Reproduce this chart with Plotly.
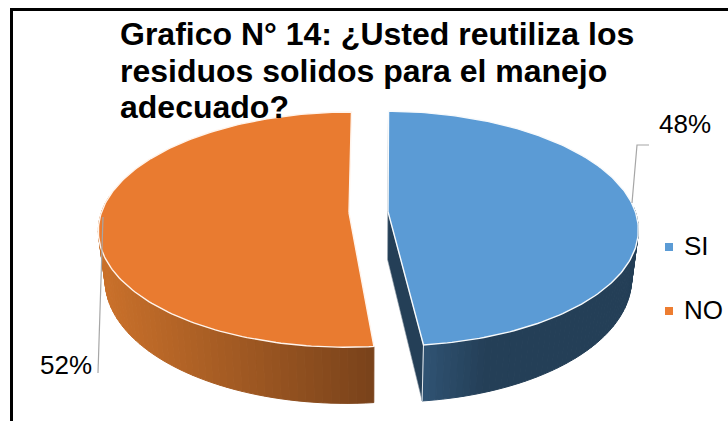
import math
import plotly.graph_objects as go

categories = ["SI", "NO"]
values = [48, 52]
colors = ["#5B9BD5", "#ED7D31"]
top_colors = ["#5B9BD5", "#E97B30"]
title_lines = ["Grafico N° 14: ¿Usted reutiliza los", "residuos solidos para el manejo", "adecuado?"]

# projection constants (pixels)
CX, CY = 368.5, 212
A, B, K = 115, 247.4, 0.145
EXPLODE = 0.079
DEPTH = 48
SHRINK = 0.975
ROT = 0.8
ORANGE_TRIM = 0.8
LEGEND_X, LEGEND_Y = 669, [247, 311]


def world(theta, r, phi):
    t, p = math.radians(theta), math.radians(phi)
    return r * math.sin(t) + EXPLODE * math.sin(p), r * math.cos(t) + EXPLODE * math.cos(p)


def top(theta, r, phi):
    X, Y = world(theta, r, phi)
    w = 1 + K * Y
    return CX + B * X / w, CY - A * Y / w


def low(theta, r, phi):
    X, Y = world(theta, r, phi)
    w = 1 + K * Y
    return CX + SHRINK * B * X / w, CY - A * Y / w + DEPTH / w


def mix(c1, c2, f):
    a = [int(c1[i:i + 2], 16) for i in (1, 3, 5)]
    b = [int(c2[i:i + 2], 16) for i in (1, 3, 5)]
    return "rgb(%d,%d,%d)" % tuple(round(x + (y - x) * f) for x, y in zip(a, b))


def poly(fig, pts, fill, line=None, width=1):
    fig.add_trace(go.Scatter(x=[p[0] for p in pts] + [pts[0][0]], y=[p[1] for p in pts] + [pts[0][1]],
                             mode="lines", fill="toself", fillcolor=fill,
                             line=dict(color=line or fill, width=width), hoverinfo="skip", showlegend=False))


def seq(a, b, n):
    return [a + (b - a) * i / n for i in range(n + 1)]


fig = go.Figure()
total = sum(values)
a0 = ROT
a1 = a0 + 360 * values[0] / total
a2 = 360
phi_blue = (a0 + a1) / 2
phi_or = (a1 + a2) / 2
o1 = a1 + ORANGE_TRIM

# orange outer wall
ang = seq(o1, 278, 60)
for i in range(60):
    t0, t1 = ang[i], ang[i + 1]
    x = top(t0, 1, phi_or)[0]
    f = min(1, max(0, (374 - x) / 270))
    col = mix("#7A431B", "#C9702A", f)
    poly(fig, [top(t0, 1, phi_or), top(t1, 1, phi_or), low(t1, 1, phi_or), low(t0, 1, phi_or)], col)

# blue walls
poly(fig, [low(a0, 1, phi_blue), low(0, 0, phi_blue), low(a1, 1, phi_blue), top(a1, 1, phi_blue),
           top(0, 0, phi_blue), top(a0, 1, phi_blue)], "#243F57", "#9AA6B0", 0.6)
ang = seq(a1, 88, 60)
for i in range(60):
    t0, t1 = ang[i], ang[i + 1]
    x = top(t0, 1, phi_blue)[0]
    f = min(1, max(0, (x - 423) / 60))
    col = mix("#2F5272", "#243F57", f)
    poly(fig, [top(t0, 1, phi_blue), top(t1, 1, phi_blue), low(t1, 1, phi_blue), low(t0, 1, phi_blue)], col)
p, q = top(a1, 1, phi_blue), low(a1, 1, phi_blue)
fig.add_trace(go.Scatter(x=[p[0], q[0]], y=[p[1], q[1]], mode="lines", line=dict(color="#E6EAEE", width=1),
                         hoverinfo="skip", showlegend=False))

# top faces
arc = [top(t, 1, phi_or) for t in seq(o1, a2, 180)]
poly(fig, [top(0, 0, phi_or)] + arc, top_colors[1], "#FFF4EC", 1.4)
arc = [top(t, 1, phi_blue) for t in seq(a0, a1, 180)]
poly(fig, [top(0, 0, phi_blue)] + arc, top_colors[0], "#F7FAFC", 1.4)

# leader lines
for lx, ly in [([632, 637, 649], [203, 145, 145]), ([103, 98], [217, 373])]:
    fig.add_trace(go.Scatter(x=lx, y=ly, mode="lines", line=dict(color="#A6A6A6", width=1.2),
                             hoverinfo="skip", showlegend=False))

# legend entries, placed to the pixel
for c, col, ly in zip(categories, colors, LEGEND_Y):
    fig.add_trace(go.Scatter(x=[LEGEND_X], y=[ly], mode="markers", name=c, showlegend=False, hoverinfo="name",
                             marker=dict(symbol="square", size=8, color=col)))

FONT = "Liberation Sans"
annotations = [dict(x=x, y=y, text=t, xref="x", yref="y", showarrow=False,
                    xanchor="center", yanchor="middle", font=dict(family=FONT, size=26, color="#000000"))
               for x, y, t in [(684.5, 124, f"{values[0]}%"), (66, 365, f"{values[1]}%")]]
for c, ly in zip(categories, LEGEND_Y):
    annotations.append(dict(x=681.5, y=ly - 1, text=c, xref="x", yref="y", showarrow=False, xanchor="left",
                            yanchor="middle", font=dict(family=FONT, size=26, color="#000000")))
for ln, y in zip(title_lines, [34, 70.5, 107]):
    annotations.append(dict(x=118, y=y, text=f"<b>{ln}</b>", xref="x", yref="y", showarrow=False, xanchor="left",
                            yanchor="middle", font=dict(family=FONT, size=32, color="#000000")))

frame = dict(type="line", xref="x", yref="y", line=dict(color="#000000", width=3))
shapes = [{**frame, "x0": 10, "y0": 9.5, "x1": 728, "y1": 9.5},
          {**frame, "x0": 11.5, "y0": 9, "x1": 11.5, "y1": 421}]

fig.update_layout(
    width=728, height=421, autosize=False, margin=dict(l=0, r=0, t=0, b=0),
    paper_bgcolor="#FFFFFF", plot_bgcolor="#FFFFFF", showlegend=False,
    xaxis=dict(range=[0, 728], visible=False, fixedrange=True),
    yaxis=dict(range=[421, 0], visible=False, fixedrange=True),
    annotations=annotations, shapes=shapes,
)
fig.write_html("out.html", config={"displayModeBar": False},
               post_script="document.body.style.margin='0';document.documentElement.style.overflow='hidden';")
